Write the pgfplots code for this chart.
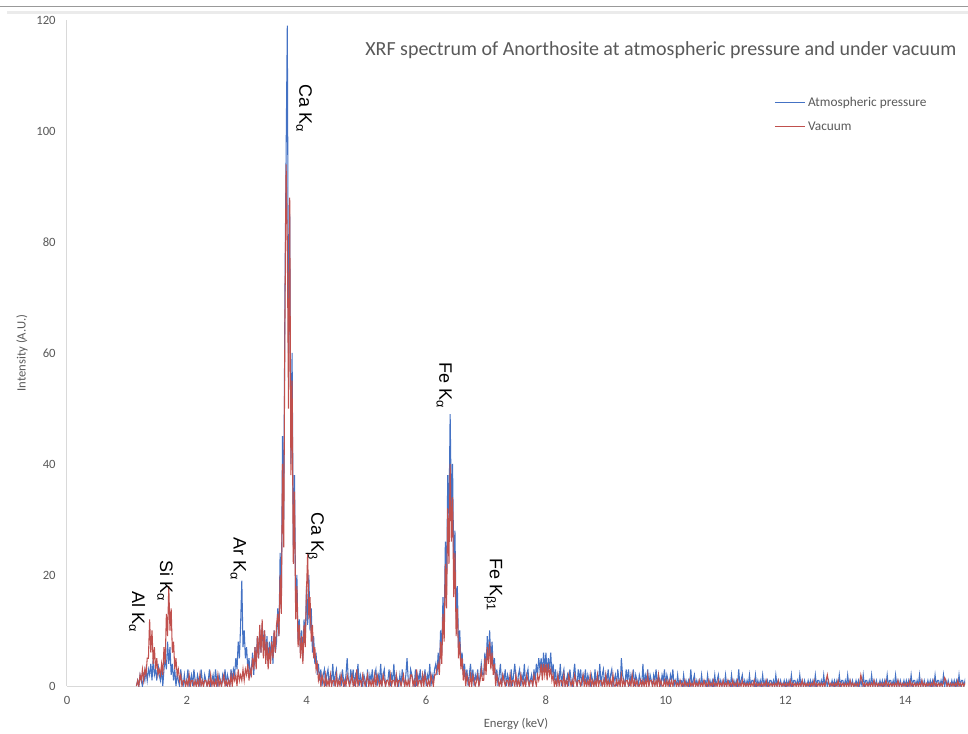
\documentclass[border=0pt]{standalone}
\usepackage{pgfplots}
\pgfplotsset{compat=1.18}
\usepackage{fontspec}
\setmainfont{Carlito}
\newfontfamily\arialfont{Liberation Sans}
\definecolor{bl}{HTML}{4472C4}
\definecolor{rd}{HTML}{C0504D}
\definecolor{txt}{HTML}{595959}
\definecolor{axg}{HTML}{D9D9D9}
\begin{document}
\begin{tikzpicture}
\useasboundingbox (-50.25pt,-35.25pt) rectangle (675.75pt,514.5pt);
\clip (-50.25pt,-35.25pt) rectangle (675.75pt,514.5pt);
\draw[color=black!40, line width=0.8pt] (-50.25pt,509.5pt) -- (675.75pt,509.5pt);
\draw[color=black!8, line width=2pt] (-45pt,505pt) -- (675.75pt,505pt);
\begin{axis}[
  at={(0pt,0pt)}, anchor=south west,
  scale only axis, width=673.5pt, height=499.5pt,
  xmin=0, xmax=15, ymin=0, ymax=120,
  axis x line*=bottom, axis y line*=left,
  axis line style={-, draw=axg, line width=0.75pt},
  xtick={0,2,...,14}, ytick={0,20,...,120},
  major tick length=0pt,
  tick label style={font=\fontsize{9.5}{11}\selectfont, text=txt},
  /pgf/number format/assume math mode=true,
  yticklabel style={xshift=-5pt},
  xticklabel style={yshift=-4pt},
  xlabel={Energy (keV)}, ylabel={Intensity (A.U.)},
  label style={font=\fontsize{9.5}{11}\selectfont, text=txt},
  xlabel style={at={(axis description cs:0.5,-0.057)}, anchor=center},
  ylabel style={at={(axis description cs:-0.050,0.5)}, anchor=center},
  legend style={at={(axis description cs:0.783,0.893)}, anchor=north west, draw=none, fill=none,
    font=\fontsize{10}{12}\selectfont, text=txt, row sep=6pt},
  legend cell align=left,
  legend image code/.code={\draw[#1, line width=0.75pt] (0pt,0pt) -- (22.5pt,0pt);},
]
\addplot[color=bl, line width=0.8pt] coordinates {
(1.16,0)(1.18,1)(1.20,0)(1.22,2)(1.24,1)(1.26,0)(1.28,2)(1.30,1)(1.32,3)(1.34,1)
(1.36,3)(1.38,2)(1.40,4)(1.42,1)(1.44,5)(1.46,2)(1.48,3)(1.50,1)(1.52,4)(1.54,2)
(1.56,1)(1.58,3)(1.60,0)(1.62,3)(1.64,5)(1.66,3)(1.68,8)(1.70,4)(1.72,7)(1.74,2)
(1.76,4)(1.78,1)(1.80,3)(1.82,0)(1.84,2)(1.86,1)(1.88,0)(1.90,3)(1.92,1)(1.94,0)
(1.96,2)(1.98,0)(2.00,1)(2.02,3)(2.04,0)(2.06,1)(2.08,2)(2.10,0)(2.12,3)(2.14,1)
(2.16,0)(2.18,2)(2.20,1)(2.22,0)(2.24,3)(2.26,1)(2.28,0)(2.30,2)(2.32,1)(2.34,0)
(2.36,1)(2.38,3)(2.40,0)(2.42,1)(2.44,2)(2.46,0)(2.48,3)(2.50,1)(2.52,0)(2.54,2)
(2.56,1)(2.58,0)(2.60,2)(2.62,1)(2.64,3)(2.66,0)(2.68,2)(2.70,1)(2.72,0)(2.74,3)
(2.76,1)(2.78,3)(2.80,2)(2.82,5)(2.84,3)(2.86,8)(2.88,5)(2.90,11)(2.92,19)(2.94,7)
(2.96,10)(2.98,5)(3.00,7)(3.02,3)(3.04,5)(3.06,2)(3.08,3)(3.10,6)(3.12,2)(3.14,7)
(3.16,4)(3.18,9)(3.20,5)(3.22,10)(3.24,6)(3.26,11)(3.28,7)(3.30,10)(3.32,5)(3.34,9)
(3.36,4)(3.38,8)(3.40,5)(3.42,9)(3.44,4)(3.46,10)(3.48,6)(3.50,8)(3.52,14)(3.54,9)
(3.56,24)(3.58,14)(3.60,45)(3.62,30)(3.64,70)(3.66,96)(3.68,119)(3.70,60)(3.72,85)(3.74,40)
(3.76,60)(3.78,25)(3.80,38)(3.82,14)(3.84,20)(3.86,8)(3.88,12)(3.90,6)(3.92,10)(3.94,5)
(3.96,12)(3.98,8)(4.00,18)(4.02,11)(4.04,20)(4.06,10)(4.08,14)(4.10,6)(4.12,9)(4.14,4)
(4.16,6)(4.18,2)(4.20,4)(4.22,1)(4.24,3)(4.26,0)(4.28,2)(4.30,3)(4.32,0)(4.34,2)
(4.36,3)(4.38,0)(4.40,2)(4.42,1)(4.44,4)(4.46,0)(4.48,2)(4.50,3)(4.52,0)(4.54,1)
(4.56,2)(4.58,0)(4.60,3)(4.62,1)(4.64,0)(4.66,2)(4.68,5)(4.70,1)(4.72,0)(4.74,3)
(4.76,1)(4.78,3)(4.80,0)(4.82,2)(4.84,1)(4.86,4)(4.88,0)(4.90,2)(4.92,1)(4.94,0)
(4.96,2)(4.98,1)(5.00,0)(5.02,3)(5.04,0)(5.06,2)(5.08,1)(5.10,3)(5.12,0)(5.14,2)
(5.16,3)(5.18,0)(5.20,2)(5.22,1)(5.24,4)(5.26,0)(5.28,2)(5.30,3)(5.32,0)(5.34,1)
(5.36,1)(5.38,3)(5.40,0)(5.42,2)(5.44,1)(5.46,4)(5.48,0)(5.50,2)(5.52,1)(5.54,0)
(5.56,2)(5.58,0)(5.60,3)(5.62,1)(5.64,0)(5.66,2)(5.68,5)(5.70,1)(5.72,0)(5.74,3)
(5.76,2)(5.78,1)(5.80,0)(5.82,3)(5.84,0)(5.86,2)(5.88,1)(5.90,3)(5.92,0)(5.94,2)
(5.96,1)(5.98,3)(6.00,0)(6.02,2)(6.04,1)(6.06,4)(6.08,0)(6.10,2)(6.12,1)(6.14,3)
(6.16,4)(6.18,2)(6.20,6)(6.22,3)(6.24,10)(6.26,6)(6.28,16)(6.30,10)(6.32,26)(6.34,18)
(6.36,38)(6.38,30)(6.40,49)(6.42,32)(6.44,40)(6.46,22)(6.48,28)(6.50,12)(6.52,18)(6.54,7)
(6.56,10)(6.58,4)(6.60,6)(6.62,2)(6.64,4)(6.66,1)(6.68,3)(6.70,0)(6.72,2)(6.74,4)
(6.76,1)(6.78,3)(6.80,0)(6.82,2)(6.84,1)(6.86,3)(6.88,0)(6.90,2)(6.92,4)(6.94,2)
(6.96,2)(6.98,6)(7.00,3)(7.02,9)(7.04,5)(7.06,10)(7.08,4)(7.10,8)(7.12,3)(7.14,5)
(7.16,1)(7.18,3)(7.20,0)(7.22,2)(7.24,4)(7.26,0)(7.28,2)(7.30,1)(7.32,3)(7.34,0)
(7.36,2)(7.38,1)(7.40,0)(7.42,3)(7.44,0)(7.46,2)(7.48,4)(7.50,1)(7.52,0)(7.54,2)
(7.56,3)(7.58,0)(7.60,2)(7.62,1)(7.64,4)(7.66,0)(7.68,2)(7.70,3)(7.72,0)(7.74,1)
(7.76,2)(7.78,0)(7.80,3)(7.82,1)(7.84,4)(7.86,2)(7.88,5)(7.90,3)(7.92,5)(7.94,2)
(7.96,6)(7.98,3)(8.00,6)(8.02,2)(8.04,5)(8.06,3)(8.08,6)(8.10,2)(8.12,4)(8.14,1)
(8.16,3)(8.18,0)(8.20,2)(8.22,1)(8.24,4)(8.26,0)(8.28,2)(8.30,3)(8.32,0)(8.34,1)
(8.36,2)(8.38,0)(8.40,3)(8.42,1)(8.44,0)(8.46,2)(8.48,4)(8.50,1)(8.52,0)(8.54,3)
(8.56,1)(8.58,3)(8.60,0)(8.62,2)(8.64,1)(8.66,3)(8.68,0)(8.70,2)(8.72,1)(8.74,0)
(8.76,2)(8.78,1)(8.80,0)(8.82,3)(8.84,0)(8.86,2)(8.88,1)(8.90,4)(8.92,0)(8.94,2)
(8.96,3)(8.98,0)(9.00,2)(9.02,1)(9.04,3)(9.06,0)(9.08,2)(9.10,3)(9.12,0)(9.14,1)
(9.16,2)(9.18,0)(9.20,3)(9.22,1)(9.24,0)(9.26,5)(9.28,2)(9.30,1)(9.32,0)(9.34,3)
(9.36,1)(9.38,3)(9.40,0)(9.42,2)(9.44,1)(9.46,3)(9.48,0)(9.50,2)(9.52,1)(9.54,0)
(9.56,2)(9.58,1)(9.60,0)(9.62,4)(9.64,0)(9.66,2)(9.68,1)(9.70,3)(9.72,0)(9.74,2)
(9.76,1)(9.78,0)(9.80,2)(9.82,1)(9.84,3)(9.86,0)(9.88,2)(9.90,1)(9.92,0)(9.94,2)
(9.96,1)(9.98,3)(10.00,0)(10.02,2)(10.04,1)(10.06,0)(10.08,2)(10.10,1)(10.12,3)(10.14,0)
(10.16,1)(10.18,0)(10.20,2)(10.22,0)(10.24,1)(10.26,1)(10.28,0)(10.30,2)(10.32,0)(10.34,1)
(10.36,0)(10.38,1)(10.40,0)(10.42,3)(10.44,0)(10.46,1)(10.48,2)(10.50,0)(10.52,1)(10.54,0)
(10.56,1)(10.58,0)(10.60,2)(10.62,0)(10.64,1)(10.66,1)(10.68,0)(10.70,2)(10.72,0)(10.74,1)
(10.76,0)(10.78,1)(10.80,0)(10.82,2)(10.84,0)(10.86,1)(10.88,2)(10.90,0)(10.92,1)(10.94,0)
(10.96,1)(10.98,0)(11.00,2)(11.02,0)(11.04,1)(11.06,1)(11.08,0)(11.10,2)(11.12,0)(11.14,1)
(11.16,0)(11.18,1)(11.20,0)(11.22,3)(11.24,0)(11.26,1)(11.28,2)(11.30,0)(11.32,1)(11.34,0)
(11.36,1)(11.38,0)(11.40,2)(11.42,0)(11.44,1)(11.46,1)(11.48,0)(11.50,2)(11.52,0)(11.54,1)
(11.56,0)(11.58,1)(11.60,0)(11.62,2)(11.64,0)(11.66,1)(11.68,0)(11.70,1)(11.72,0)(11.74,1)
(11.76,1)(11.78,0)(11.80,1)(11.82,0)(11.84,2)(11.86,0)(11.88,1)(11.90,0)(11.92,1)(11.94,0)
(11.96,0)(11.98,1)(12.00,0)(12.02,1)(12.04,0)(12.06,1)(12.08,0)(12.10,2)(12.12,0)(12.14,1)
(12.16,1)(12.18,0)(12.20,1)(12.22,0)(12.24,2)(12.26,0)(12.28,1)(12.30,0)(12.32,1)(12.34,0)
(12.36,0)(12.38,1)(12.40,0)(12.42,1)(12.44,0)(12.46,1)(12.48,0)(12.50,2)(12.52,0)(12.54,1)
(12.56,1)(12.58,0)(12.60,1)(12.62,0)(12.64,2)(12.66,0)(12.68,1)(12.70,0)(12.72,1)(12.74,0)
(12.76,0)(12.78,1)(12.80,0)(12.82,1)(12.84,0)(12.86,1)(12.88,0)(12.90,2)(12.92,0)(12.94,1)
(12.96,1)(12.98,0)(13.00,1)(13.02,0)(13.04,2)(13.06,0)(13.08,1)(13.10,0)(13.12,1)(13.14,0)
(13.16,0)(13.18,1)(13.20,0)(13.22,1)(13.24,0)(13.26,1)(13.28,0)(13.30,2)(13.32,0)(13.34,1)
(13.36,1)(13.38,0)(13.40,1)(13.42,0)(13.44,2)(13.46,0)(13.48,1)(13.50,0)(13.52,1)(13.54,0)
(13.56,0)(13.58,1)(13.60,0)(13.62,1)(13.64,0)(13.66,1)(13.68,0)(13.70,2)(13.72,0)(13.74,1)
(13.76,1)(13.78,0)(13.80,1)(13.82,0)(13.84,2)(13.86,0)(13.88,1)(13.90,0)(13.92,1)(13.94,0)
(13.96,0)(13.98,1)(14.00,0)(14.02,1)(14.04,0)(14.06,1)(14.08,0)(14.10,2)(14.12,0)(14.14,1)
(14.16,1)(14.18,0)(14.20,1)(14.22,0)(14.24,2)(14.26,0)(14.28,1)(14.30,0)(14.32,1)(14.34,0)
(14.36,0)(14.38,1)(14.40,0)(14.42,1)(14.44,0)(14.46,1)(14.48,0)(14.50,2)(14.52,0)(14.54,1)
(14.56,1)(14.58,0)(14.60,1)(14.62,0)(14.64,2)(14.66,0)(14.68,1)(14.70,0)(14.72,1)(14.74,0)
(14.76,0)(14.78,1)(14.80,0)(14.82,1)(14.84,0)(14.86,1)(14.88,0)(14.90,2)(14.92,0)(14.94,1)
(14.96,1)(14.98,0)(15.00,1)(15.02,0)
};
\addlegendentry{Atmospheric pressure}
\addplot[color=rd, line width=0.8pt] coordinates {
(1.16,0)(1.18,1)(1.20,0)(1.22,2)(1.24,1)(1.26,3)(1.28,1)(1.30,3)(1.32,2)(1.34,5)
(1.36,5)(1.38,12)(1.40,6)(1.42,10)(1.44,4)(1.46,7)(1.48,3)(1.50,5)(1.52,2)(1.54,3)
(1.56,2)(1.58,4)(1.60,2)(1.62,7)(1.64,4)(1.66,13)(1.68,9)(1.70,18)(1.72,10)(1.74,14)
(1.76,6)(1.78,8)(1.80,3)(1.82,5)(1.84,2)(1.86,3)(1.88,1)(1.90,2)(1.92,0)(1.94,1)
(1.96,1)(1.98,0)(2.00,1)(2.02,0)(2.04,2)(2.06,0)(2.08,1)(2.10,1)(2.12,0)(2.14,1)
(2.16,0)(2.18,1)(2.20,0)(2.22,2)(2.24,0)(2.26,1)(2.28,0)(2.30,1)(2.32,1)(2.34,0)
(2.36,1)(2.38,0)(2.40,2)(2.42,0)(2.44,1)(2.46,0)(2.48,1)(2.50,0)(2.52,2)(2.54,0)
(2.56,1)(2.58,0)(2.60,1)(2.62,2)(2.64,0)(2.66,1)(2.68,0)(2.70,1)(2.72,0)(2.74,2)
(2.76,0)(2.78,2)(2.80,1)(2.82,2)(2.84,0)(2.86,3)(2.88,1)(2.90,2)(2.92,1)(2.94,3)
(2.96,1)(2.98,3)(3.00,2)(3.02,4)(3.04,1)(3.06,3)(3.08,2)(3.10,5)(3.12,3)(3.14,7)
(3.16,3)(3.18,9)(3.20,5)(3.22,11)(3.24,6)(3.26,12)(3.28,5)(3.30,10)(3.32,4)(3.34,8)
(3.36,3)(3.38,7)(3.40,4)(3.42,8)(3.44,5)(3.46,10)(3.48,6)(3.50,11)(3.52,13)(3.54,9)
(3.56,20)(3.58,13)(3.60,40)(3.62,25)(3.64,65)(3.66,94)(3.68,80)(3.70,50)(3.72,88)(3.74,38)
(3.76,55)(3.78,22)(3.80,35)(3.82,12)(3.84,18)(3.86,7)(3.88,11)(3.90,5)(3.92,9)(3.94,4)
(3.96,11)(3.98,7)(4.00,17)(4.02,24)(4.04,12)(4.06,16)(4.08,8)(4.10,11)(4.12,5)(4.14,7)
(4.16,3)(4.18,4)(4.20,1)(4.22,2)(4.24,0)(4.26,2)(4.28,1)(4.30,0)(4.32,2)(4.34,0)
(4.36,1)(4.38,0)(4.40,2)(4.42,0)(4.44,1)(4.46,1)(4.48,0)(4.50,2)(4.52,0)(4.54,1)
(4.56,0)(4.58,2)(4.60,1)(4.62,0)(4.64,1)(4.66,0)(4.68,2)(4.70,1)(4.72,0)(4.74,1)
(4.76,2)(4.78,0)(4.80,1)(4.82,0)(4.84,3)(4.86,0)(4.88,1)(4.90,1)(4.92,0)(4.94,2)
(4.96,1)(4.98,0)(5.00,1)(5.02,2)(5.04,0)(5.06,1)(5.08,0)(5.10,1)(5.12,0)(5.14,2)
(5.16,0)(5.18,2)(5.20,1)(5.22,0)(5.24,1)(5.26,0)(5.28,2)(5.30,1)(5.32,0)(5.34,1)
(5.36,1)(5.38,0)(5.40,2)(5.42,0)(5.44,1)(5.46,1)(5.48,0)(5.50,2)(5.52,0)(5.54,1)
(5.56,1)(5.58,0)(5.60,1)(5.62,2)(5.64,0)(5.66,1)(5.68,0)(5.70,1)(5.72,0)(5.74,2)
(5.76,2)(5.78,0)(5.80,1)(5.82,0)(5.84,3)(5.86,0)(5.88,1)(5.90,1)(5.92,0)(5.94,2)
(5.96,0)(5.98,2)(6.00,1)(6.02,0)(6.04,1)(6.06,0)(6.08,2)(6.10,1)(6.12,0)(6.14,2)
(6.16,2)(6.18,3)(6.20,4)(6.22,2)(6.24,8)(6.26,4)(6.28,13)(6.30,8)(6.32,22)(6.34,14)
(6.36,32)(6.38,22)(6.40,40)(6.42,26)(6.44,34)(6.46,16)(6.48,24)(6.50,9)(6.52,14)(6.54,5)
(6.56,8)(6.58,3)(6.60,5)(6.62,1)(6.64,3)(6.66,0)(6.68,2)(6.70,1)(6.72,0)(6.74,2)
(6.76,0)(6.78,2)(6.80,1)(6.82,0)(6.84,1)(6.86,2)(6.88,0)(6.90,1)(6.92,3)(6.94,1)
(6.96,1)(6.98,5)(7.00,2)(7.02,7)(7.04,4)(7.06,8)(7.08,3)(7.10,6)(7.12,2)(7.14,4)
(7.16,0)(7.18,2)(7.20,1)(7.22,0)(7.24,1)(7.26,0)(7.28,2)(7.30,1)(7.32,0)(7.34,1)
(7.36,1)(7.38,0)(7.40,2)(7.42,0)(7.44,1)(7.46,1)(7.48,0)(7.50,2)(7.52,0)(7.54,1)
(7.56,0)(7.58,2)(7.60,1)(7.62,0)(7.64,1)(7.66,0)(7.68,2)(7.70,1)(7.72,0)(7.74,1)
(7.76,1)(7.78,0)(7.80,2)(7.82,1)(7.84,0)(7.86,2)(7.88,1)(7.90,2)(7.92,4)(7.94,1)
(7.96,4)(7.98,2)(8.00,4)(8.02,1)(8.04,4)(8.06,2)(8.08,3)(8.10,1)(8.12,2)(8.14,0)
(8.16,1)(8.18,0)(8.20,2)(8.22,0)(8.24,1)(8.26,1)(8.28,0)(8.30,2)(8.32,0)(8.34,1)
(8.36,0)(8.38,2)(8.40,1)(8.42,0)(8.44,1)(8.46,0)(8.48,2)(8.50,1)(8.52,0)(8.54,1)
(8.56,1)(8.58,0)(8.60,1)(8.62,2)(8.64,0)(8.66,1)(8.68,0)(8.70,1)(8.72,0)(8.74,2)
(8.76,0)(8.78,1)(8.80,0)(8.82,1)(8.84,0)(8.86,2)(8.88,0)(8.90,1)(8.92,1)(8.94,0)
(8.96,1)(8.98,0)(9.00,2)(9.02,0)(9.04,1)(9.06,0)(9.08,1)(9.10,0)(9.12,2)(9.14,0)
(9.16,0)(9.18,1)(9.20,0)(9.22,1)(9.24,0)(9.26,2)(9.28,0)(9.30,1)(9.32,0)(9.34,1)
(9.36,1)(9.38,0)(9.40,1)(9.42,0)(9.44,2)(9.46,0)(9.48,1)(9.50,0)(9.52,1)(9.54,0)
(9.56,0)(9.58,1)(9.60,0)(9.62,1)(9.64,0)(9.66,1)(9.68,0)(9.70,2)(9.72,0)(9.74,1)
(9.76,1)(9.78,0)(9.80,1)(9.82,0)(9.84,1)(9.86,0)(9.88,2)(9.90,0)(9.92,1)(9.94,0)
(9.96,0)(9.98,1)(10.00,0)(10.02,1)(10.04,0)(10.06,1)(10.08,0)(10.10,1)(10.12,0)(10.14,1)
(10.16,1)(10.18,0)(10.20,0.5)(10.22,0)(10.24,1)(10.26,0)(10.28,0.5)(10.30,0)(10.32,1)(10.34,0)
(10.36,0.5)(10.38,0)(10.40,1)(10.42,0)(10.44,0.5)(10.46,0)(10.48,1)(10.50,0)(10.52,0.5)(10.54,0)
(10.56,1)(10.58,0)(10.60,0.5)(10.62,0)(10.64,1)(10.66,0)(10.68,0.5)(10.70,0)(10.72,1)(10.74,0)
(10.76,0.5)(10.78,0)(10.80,1)(10.82,0)(10.84,0.5)(10.86,0)(10.88,1)(10.90,0)(10.92,0.5)(10.94,0)
(10.96,1)(10.98,0)(11.00,0.5)(11.02,0)(11.04,1)(11.06,0)(11.08,0.5)(11.10,0)(11.12,1)(11.14,0)
(11.16,0.5)(11.18,0)(11.20,1)(11.22,0)(11.24,0.5)(11.26,0)(11.28,1)(11.30,0)(11.32,0.5)(11.34,0)
(11.36,0.5)(11.38,0)(11.40,0.5)(11.42,0)(11.44,0.5)(11.46,0)(11.48,1)(11.50,0)(11.52,0.5)(11.54,0)
(11.56,0.5)(11.58,0)(11.60,0.5)(11.62,0)(11.64,0.5)(11.66,0)(11.68,1)(11.70,0)(11.72,0.5)(11.74,0)
(11.76,0.5)(11.78,0)(11.80,0.5)(11.82,0)(11.84,0.5)(11.86,0)(11.88,1)(11.90,0)(11.92,0.5)(11.94,0)
(11.96,0.5)(11.98,0)(12.00,0.5)(12.02,0)(12.04,0.5)(12.06,0)(12.08,1)(12.10,0)(12.12,0.5)(12.14,0)
(12.16,0.5)(12.18,0)(12.20,0.5)(12.22,0)(12.24,0.5)(12.26,0)(12.28,1)(12.30,0)(12.32,0.5)(12.34,0)
(12.36,0.5)(12.38,0)(12.40,0.5)(12.42,0)(12.44,0.5)(12.46,0)(12.48,1)(12.50,0)(12.52,0.5)(12.54,0)
(12.56,0.5)(12.58,0)(12.60,0.5)(12.62,0)(12.64,0.5)(12.66,0)(12.68,1)(12.70,2)(12.72,0.5)(12.74,0)
(12.76,0.5)(12.78,0)(12.80,0.5)(12.82,0)(12.84,0.5)(12.86,0)(12.88,1)(12.90,0)(12.92,0.5)(12.94,0)
(12.96,0.5)(12.98,0)(13.00,0.5)(13.02,0)(13.04,0.5)(13.06,0)(13.08,1)(13.10,0)(13.12,0.5)(13.14,0)
(13.16,0.5)(13.18,0)(13.20,0.5)(13.22,0)(13.24,0.5)(13.26,2)(13.28,1)(13.30,0)(13.32,0.5)(13.34,0)
(13.36,0.5)(13.38,0)(13.40,0.5)(13.42,0)(13.44,0.5)(13.46,0)(13.48,1)(13.50,0)(13.52,0.5)(13.54,0)
(13.56,0.5)(13.58,0)(13.60,0.5)(13.62,0)(13.64,0.5)(13.66,0)(13.68,1)(13.70,0)(13.72,0.5)(13.74,0)
(13.76,0.5)(13.78,0)(13.80,0.5)(13.82,0)(13.84,0.5)(13.86,0)(13.88,1)(13.90,0)(13.92,0.5)(13.94,0)
(13.96,0.5)(13.98,0)(14.00,0.5)(14.02,0)(14.04,0.5)(14.06,0)(14.08,1)(14.10,0)(14.12,0.5)(14.14,0)
(14.16,0.5)(14.18,0)(14.20,0.5)(14.22,0)(14.24,0.5)(14.26,0)(14.28,1)(14.30,0)(14.32,0.5)(14.34,0)
(14.36,0.5)(14.38,0)(14.40,0.5)(14.42,0)(14.44,0.5)(14.46,0)(14.48,1)(14.50,0)(14.52,0.5)(14.54,0)
(14.56,0.5)(14.58,0)(14.60,0.5)(14.62,0)(14.64,0.5)(14.66,1.5)(14.68,1)(14.70,0)(14.72,0.5)(14.74,0)
(14.76,0.5)(14.78,0)(14.80,0.5)(14.82,0)(14.84,0.5)(14.86,0)(14.88,1)(14.90,0)(14.92,0.5)(14.94,0)
(14.96,0.5)(14.98,0)(15.00,0.5)(15.02,0)
};
\addlegendentry{Vacuum}
\begin{scope}[every node/.style={rotate=-90, font=\arialfont\fontsize{13.5}{15}\selectfont, text=black}]
\node at (axis cs:3.96,104.1) {Ca K\textsubscript{α}};
\node at (axis cs:6.30,54.1) {Fe K\textsubscript{α}};
\node at (axis cs:4.14,27.0) {Ca K\textsubscript{β}};
\node at (axis cs:2.86,22.9) {Ar K\textsubscript{α}};
\node at (axis cs:1.64,18.9) {Si K\textsubscript{α}};
\node at (axis cs:1.17,13.3) {Al K\textsubscript{α}};
\node at (axis cs:7.12,18.2) {Fe K\textsubscript{β1}};
\end{scope}
\end{axis}
\node[anchor=west, font=\fontsize{15}{18}\selectfont, text=txt, inner sep=0pt] at (223.5pt,477pt) {XRF spectrum of Anorthosite at atmospheric pressure and under vacuum};
\end{tikzpicture}
\end{document}
